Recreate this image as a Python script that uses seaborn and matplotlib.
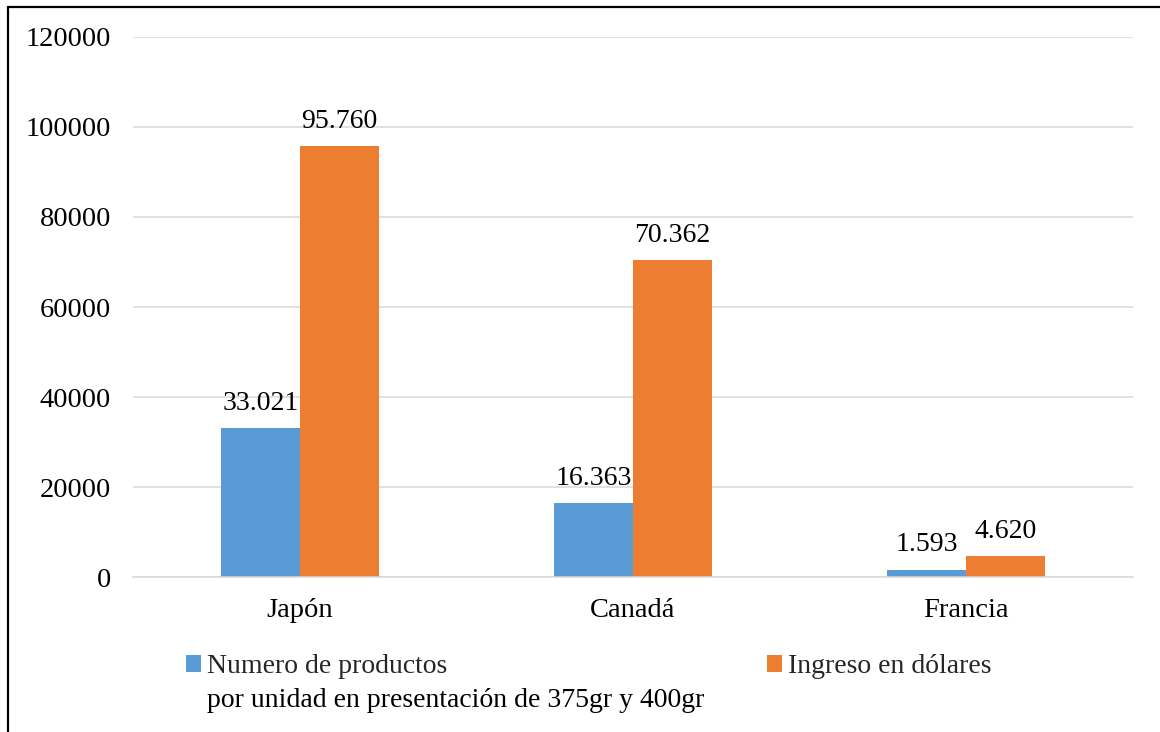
import matplotlib
matplotlib.use("Agg")
import matplotlib.pyplot as plt
from matplotlib.lines import Line2D
import seaborn as sns
import pandas as pd

paises = ["Japón", "Canadá", "Francia"]
series = ["Numero de productos", "Ingreso en dólares"]
serie_detalle = "por unidad en presentación de 375gr y 400gr"
productos = [33021, 16363, 1593]
ingresos = [95760, 70362, 4620]
y_ticks = [0, 20000, 40000, 60000, 80000, 100000, 120000]

df = pd.DataFrame({
    "pais": paises * 2,
    "serie": [series[0]] * len(paises) + [series[1]] * len(paises),
    "valor": productos + ingresos,
})

sns.set_theme(style="white")
plt.rcParams["font.family"] = ["Liberation Serif", "DejaVu Serif"]

fig = plt.figure(figsize=(11.6, 7.32), dpi=100)
ax = fig.add_axes([0.1147, 0.2117, 0.862, 0.7378])

colores = ["#5B9BD5", "#ED7D31"]
sns.barplot(data=df, x="pais", y="valor", hue="serie", palette=colores,
            width=0.474, gap=0, ax=ax, legend=True, saturation=1,
            linewidth=0)

ax.set_ylim(0, 120000)
ax.set_yticks(y_ticks)
ax.set_yticklabels([str(t) for t in y_ticks])
ax.set_xlabel("")
ax.set_ylabel("")
ax.grid(axis="y", color="#D9D9D9", linewidth=1.1)
ax.set_axisbelow(True)
for s in ["top", "right", "left"]:
    ax.spines[s].set_visible(False)
ax.spines["bottom"].set_color("#D9D9D9")
ax.spines["bottom"].set_linewidth(1.1)
ax.tick_params(axis="both", length=0, labelsize=20.5, colors="black")
ax.tick_params(axis="y", pad=16)
ax.tick_params(axis="x", pad=15)

def fmt(v):
    return f"{v:,}".replace(",", ".")

for cont in ax.containers:
    for bar in cont:
        h = bar.get_height()
        ax.annotate(fmt(int(round(h))), (bar.get_x() + bar.get_width() / 2, h),
                    xytext=(0, 9), textcoords="offset points",
                    ha="center", va="bottom", fontsize=20, color="black")

handles, labels = ax.get_legend_handles_labels()
ax.get_legend().remove()
leg = fig.legend(handles, labels, loc="upper left",
                 bbox_to_anchor=(0.1605, 0.106),
                 ncol=2, frameon=False, fontsize=20, handlelength=0.55,
                 handleheight=0.55, handletextpad=0.2, columnspacing=11.5,
                 borderaxespad=0, borderpad=0)

# second line of the first series name, under its legend entry
fig.canvas.draw()
renderer = fig.canvas.get_renderer()
bb = leg.get_texts()[0].get_window_extent(renderer).transformed(fig.transFigure.inverted())
fig.text(bb.x0, bb.y0 - 0.012, serie_detalle, ha="left", va="top",
         fontsize=20, color="black")

# outer frame
fig.add_artist(Line2D([0.007, 0.007], [0, 0.991], transform=fig.transFigure,
                      color="black", linewidth=1.6))
fig.add_artist(Line2D([0.007, 1.0], [0.991, 0.991], transform=fig.transFigure,
                      color="black", linewidth=1.6))

fig.savefig("out.png", dpi=100)
